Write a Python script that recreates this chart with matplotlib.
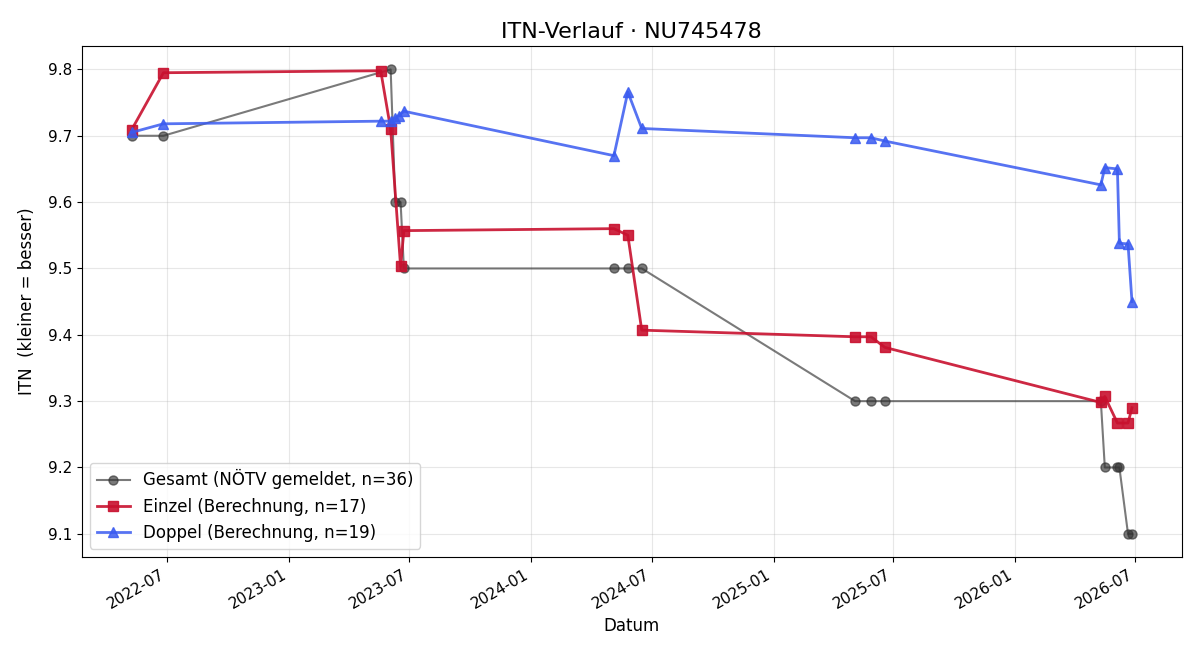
import matplotlib
matplotlib.use("Agg")
import matplotlib.pyplot as plt
import pandas as pd

# Gesamt (NÖTV gemeldet)
gesamt_dates = ["2022-05-08", "2022-06-25", "2023-06-03", "2023-06-10", "2023-06-18",
                "2023-06-23", "2024-05-05", "2024-05-26", "2024-06-16", "2025-05-04",
                "2025-05-28", "2025-06-18", "2026-05-10", "2026-05-16", "2026-06-04",
                "2026-06-07", "2026-06-20", "2026-06-26"]
gesamt_itn = [9.7, 9.7, 9.8, 9.6, 9.6, 9.5, 9.5, 9.5, 9.5, 9.3, 9.3, 9.3,
              9.3, 9.2, 9.2, 9.2, 9.1, 9.1]

# Einzel (Berechnung)
einzel_dates = ["2022-05-08", "2022-06-25", "2023-05-19", "2023-06-03", "2023-06-18",
                "2023-06-23", "2024-05-05", "2024-05-26", "2024-06-16", "2025-05-04",
                "2025-05-28", "2025-06-18", "2026-05-10", "2026-05-16", "2026-06-04",
                "2026-06-20", "2026-06-26"]
einzel_itn = [9.709, 9.795, 9.798, 9.710, 9.503, 9.557, 9.560, 9.550, 9.407, 9.397,
              9.397, 9.381, 9.298, 9.307, 9.267, 9.267, 9.290]

# Doppel (Berechnung)
doppel_dates = ["2022-05-08", "2022-06-25", "2023-05-19", "2023-06-03", "2023-06-10",
                "2023-06-15", "2023-06-23", "2024-05-05", "2024-05-26", "2024-06-16",
                "2025-05-04", "2025-05-28", "2025-06-18", "2026-05-10", "2026-05-16",
                "2026-06-04", "2026-06-07", "2026-06-20", "2026-06-26"]
doppel_itn = [9.705, 9.718, 9.722, 9.722, 9.727, 9.730, 9.737, 9.670, 9.766, 9.711,
              9.697, 9.697, 9.692, 9.626, 9.652, 9.650, 9.538, 9.537, 9.450]

fig, ax = plt.subplots(figsize=(12, 6.6), dpi=100)

ax.plot(pd.to_datetime(gesamt_dates), gesamt_itn, marker="o", ms=6.5, lw=1.5,
        color="#333333", alpha=0.65, label="Gesamt (NÖTV gemeldet, n=36)")
ax.plot(pd.to_datetime(einzel_dates), einzel_itn, marker="s", ms=7.5, lw=2,
        color="#C8102E", alpha=0.9, label="Einzel (Berechnung, n=17)")
ax.plot(pd.to_datetime(doppel_dates), doppel_itn, marker="^", ms=7.5, lw=2,
        color="#3A5BF0", alpha=0.85, label="Doppel (Berechnung, n=19)")

ax.set_title("ITN-Verlauf · NU745478", fontsize=16)
ax.set_xlabel("Datum", fontsize=12)
ax.set_ylabel("ITN  (kleiner = besser)", fontsize=12, labelpad=8)
ax.tick_params(labelsize=11)
ax.grid(True, alpha=0.3)
ax.legend(loc="lower left", fontsize=12)
fig.autofmt_xdate()
fig.subplots_adjust(left=0.068, right=0.985, top=0.930, bottom=0.156)
fig.savefig("out.png")
